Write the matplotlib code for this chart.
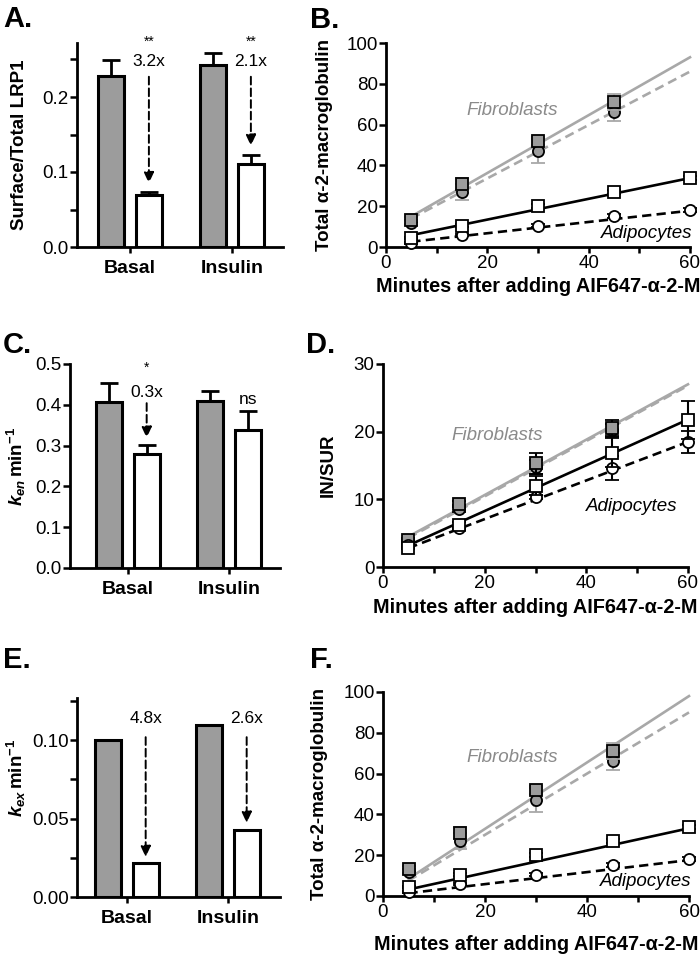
import numpy as np
import matplotlib
matplotlib.use("Agg")
import matplotlib.pyplot as plt
from matplotlib.ticker import MultipleLocator, FormatStrFormatter

plt.rcParams["font.family"] = ["Liberation Sans", "DejaVu Sans"]
plt.rcParams["mathtext.fontset"] = "custom"
plt.rcParams["mathtext.rm"] = "Liberation Sans:bold"
plt.rcParams["mathtext.it"] = "Liberation Sans:italic:bold"
plt.rcParams["mathtext.bf"] = "Liberation Sans:bold"

# bar panels
groups = ["Basal", "Insulin"]

# A: surface / total LRP1
a_fib = [0.228, 0.243]
a_fib_err = [0.021, 0.016]
a_adi = [0.069, 0.111]
a_adi_err = [0.005, 0.012]
a_fold = ["3.2x", "2.1x"]
a_stars = ["**", "**"]
a_arrow_tip = [0.085, 0.135]

# C: k_en
c_fib = [0.408, 0.410]
c_fib_err = [0.046, 0.023]
c_adi = [0.279, 0.339]
c_adi_err = [0.023, 0.045]

# E: k_ex
e_fib = [0.100, 0.110]
e_adi = [0.0215, 0.043]
e_fold = ["4.8x", "2.6x"]
e_arrow_tip = [0.0255, 0.0473]

# kinetic panels (B and F share the points)
fib_min = [5, 15, 30, 45]
adi_min = [5, 15, 30, 45, 60]
fit_x = [5, 60]

tot_fib_sq = [13, 31, 52, 71]
tot_fib_sq_err = [1.5, 3, 2, 4]
tot_fib_ci = [12, 27, 47, 66]
tot_fib_ci_err = [1, 4, 6, 4]
tot_adi_sq = [4.5, 10.5, 20, 27, 34]
tot_adi_sq_err = [0.5, 0.8, 1, 1, 1]
tot_adi_ci = [2, 6, 10.5, 15, 18]
tot_adi_ci_err = [0.3, 0.5, 0.8, 1, 1]

b_fit_fib_sq = [15, 93]
b_fit_fib_ci = [14, 86]
b_fit_adi_sq = [5.8, 33.8]
b_fit_adi_ci = [2.6, 17.8]

f_fit_fib_sq = [8.5, 98]
f_fit_fib_ci = [7.5, 90]
f_fit_adi_sq = [3.2, 33.2]
f_fit_adi_ci = [1.4, 17.6]

# D: IN/SUR
d_fib_sq = [4.0, 9.3, 15.3, 20.5]
d_fib_sq_err = [0.3, 0.5, 1.5, 1.2]
d_fib_ci = [3.7, 8.6, 14.8, 20.2]
d_fib_ci_err = [0.3, 0.5, 1.0, 1.0]
d_adi_sq = [2.8, 6.2, 12.0, 16.9, 21.7]
d_adi_sq_err = [0.2, 0.4, 1.4, 2.1, 2.8]
d_adi_ci = [3.2, 5.7, 10.3, 14.6, 18.5]
d_adi_ci_err = [0.2, 0.3, 0.3, 1.8, 1.6]

d_fit_fib_sq = [4.5, 27.0]
d_fit_fib_ci = [4.3, 26.8]
d_fit_adi_sq = [3.2, 21.8]
d_fit_adi_ci = [2.8, 18.5]

GRAY = "#9c9c9c"
LGRAY = "#a8a8a8"
TXTGRAY = "#8a8a8a"

fig = plt.figure(figsize=(7, 9.57), dpi=100)


def add_ax(l, r, b, t):
    return fig.add_axes([l / 700, 1 - b / 957, (r - l) / 700, (b - t) / 957])


def style(ax):
    for s in ["top", "right"]:
        ax.spines[s].set_visible(False)
    for s in ["left", "bottom"]:
        ax.spines[s].set_linewidth(2)
    ax.tick_params(which="both", direction="out", width=1.8, length=5,
                   labelsize=13.5, pad=1)
    ax.tick_params(axis="x", which="both", length=4.5, pad=1)


def bar_panel(ax, fib, adi, fib_err=None, adi_err=None):
    x = np.arange(len(groups))
    w = 0.26
    ax.bar(x - 0.185, fib, w, color=GRAY, edgecolor="black", linewidth=2.2, zorder=3)
    ax.bar(x + 0.185, adi, w, color="white", edgecolor="black", linewidth=2.2, zorder=3)
    if fib_err is not None:
        ax.errorbar(x - 0.185, fib, yerr=[np.zeros(len(fib)), fib_err], fmt="none",
                    ecolor="black", elinewidth=2, capsize=6.5, capthick=2, zorder=2)
        ax.errorbar(x + 0.185, adi, yerr=[np.zeros(len(adi)), adi_err], fmt="none",
                    ecolor="black", elinewidth=2, capsize=6.5, capthick=2, zorder=2)
    style(ax)
    ax.set_xticks(x)
    ax.set_xticklabels(groups, fontsize=14, fontweight="bold")
    ax.tick_params(axis="x", pad=5)


def fold_arrow(ax, xpos, start, tip):
    ax.annotate("", xy=(xpos, tip), xytext=(xpos, start),
                arrowprops=dict(arrowstyle="-|>,head_width=0.3,head_length=0.65",
                                linestyle=(0, (4, 2)), lw=1.4, color="black",
                                shrinkA=0, shrinkB=0),
                annotation_clip=False)


def kinetic_panel(ax, fsq, fsq_e, fci, fci_e, asq, asq_e, aci, aci_e,
                  fits, fib_ecolor):
    ax.plot(fit_x, fits[0], color=LGRAY, lw=1.9, zorder=2)
    ax.plot(fit_x, fits[1], color=LGRAY, lw=1.9, ls=(0, (3.5, 2)), zorder=2)
    ax.plot(fit_x, fits[2], color="black", lw=1.9, zorder=2)
    ax.plot(fit_x, fits[3], color="black", lw=1.9, ls=(0, (3.5, 2)), zorder=2)
    kw = dict(markersize=8, markeredgecolor="black", markeredgewidth=1.3,
              elinewidth=1.5, capsize=5, capthick=1.5, ls="none")
    ax.errorbar(fib_min, fci, yerr=fci_e, fmt="o", color=GRAY, ecolor=fib_ecolor,
                zorder=4, **kw)
    ax.errorbar(fib_min, fsq, yerr=fsq_e, fmt="s", color=GRAY, ecolor=fib_ecolor,
                zorder=5, **kw)
    ax.errorbar(adi_min, aci, yerr=aci_e, fmt="o", color="white", ecolor="black",
                zorder=6, **kw)
    ax.errorbar(adi_min, asq, yerr=asq_e, fmt="s", color="white", ecolor="black",
                zorder=7, **kw)
    style(ax)
    ax.set_xlim(0, 60)
    ax.xaxis.set_major_locator(MultipleLocator(20))
    ax.xaxis.set_minor_locator(MultipleLocator(10))
    ax.set_xlabel("Minutes after adding AIF647-α-2-M", fontsize=14.3,
                  fontweight="bold")
    for c in ax.get_children():
        if hasattr(c, "set_clip_on"):
            c.set_clip_on(False)


# ---- A ----
axA = add_ax(77, 283, 247, 43)
bar_panel(axA, a_fib, a_adi, a_fib_err, a_adi_err)
axA.set_xlim(-0.52, 1.5)
axA.set_ylim(0, 0.272)
axA.yaxis.set_major_locator(MultipleLocator(0.1))
axA.yaxis.set_minor_locator(MultipleLocator(0.05))
axA.yaxis.set_major_formatter(FormatStrFormatter("%.1f"))
axA.set_ylabel("Surface/Total LRP1", fontsize=13.5, fontweight="bold")
axA.yaxis.set_label_coords(-0.238, 0.5)
for i in range(2):
    xp = i + 0.185
    axA.text(xp, 0.273, a_stars[i], ha="center", va="center", fontsize=10)
    axA.text(xp, 0.247, a_fold[i], ha="center", va="center", fontsize=12.5)
    fold_arrow(axA, xp, 0.227, a_arrow_tip[i])

# ---- B ----
axB = add_ax(386, 690, 247, 43)
kinetic_panel(axB, tot_fib_sq, tot_fib_sq_err, tot_fib_ci, tot_fib_ci_err,
              tot_adi_sq, tot_adi_sq_err, tot_adi_ci, tot_adi_ci_err,
              [b_fit_fib_sq, b_fit_fib_ci, b_fit_adi_sq, b_fit_adi_ci], LGRAY)
axB.set_ylim(0, 100)
axB.yaxis.set_major_locator(MultipleLocator(20))
axB.set_ylabel("Total α-2-macroglobulin", fontsize=13.5, fontweight="bold")
axB.yaxis.set_label_coords(-0.174, 0.5)
axB.xaxis.set_label_coords(0.5, -0.148)
axB.text(25, 67, "Fibroblasts", style="italic", color=TXTGRAY, fontsize=13.5,
         ha="center", va="center")
axB.text(51.5, 6.4, "Adipocytes", style="italic", color="black", fontsize=13.5,
         ha="center", va="center")

# ---- C ----
axC = add_ax(70, 280, 568, 364)
bar_panel(axC, c_fib, c_adi, c_fib_err, c_adi_err)
axC.set_xlim(-0.574, 1.505)
axC.set_ylim(0, 0.5)
axC.yaxis.set_major_locator(MultipleLocator(0.1))
axC.yaxis.set_major_formatter(FormatStrFormatter("%.1f"))
axC.set_ylabel(r"$k_{en}\,\mathrm{min}^{-1}$", fontsize=13.5)
axC.yaxis.set_label_coords(-0.2, 0.5)
axC.text(0.185, 0.49, "*", ha="center", va="center", fontsize=10)
axC.text(0.185, 0.431, "0.3x", ha="center", va="center", fontsize=12.5)
fold_arrow(axC, 0.185, 0.404, 0.319)
axC.text(1.185, 0.414, "ns", ha="center", va="center", fontsize=12.5)

# ---- D ----
axD = add_ax(383, 688, 567, 364)
kinetic_panel(axD, d_fib_sq, d_fib_sq_err, d_fib_ci, d_fib_ci_err,
              d_adi_sq, d_adi_sq_err, d_adi_ci, d_adi_ci_err,
              [d_fit_fib_sq, d_fit_fib_ci, d_fit_adi_sq, d_fit_adi_ci], "black")
axD.set_ylim(0, 30)
axD.yaxis.set_major_locator(MultipleLocator(10))
axD.set_ylabel("IN/SUR", fontsize=13.5, fontweight="bold")
axD.yaxis.set_label_coords(-0.151, 0.5)
axD.xaxis.set_label_coords(0.5, -0.155)
axD.text(22.4, 19.5, "Fibroblasts", style="italic", color=TXTGRAY, fontsize=13.5,
         ha="center", va="center")
axD.text(49, 8.9, "Adipocytes", style="italic", color="black", fontsize=13.5,
         ha="center", va="center")

# ---- E ----
axE = add_ax(77, 280, 897, 698)
bar_panel(axE, e_fib, e_adi)
axE.set_xlim(-0.495, 1.515)
axE.set_ylim(0, 0.127)
axE.yaxis.set_major_locator(MultipleLocator(0.05))
axE.yaxis.set_minor_locator(MultipleLocator(0.025))
axE.yaxis.set_major_formatter(FormatStrFormatter("%.2f"))
axE.set_ylabel(r"$k_{ex}\,\mathrm{min}^{-1}$", fontsize=13.5)
axE.yaxis.set_label_coords(-0.241, 0.6)
for i in range(2):
    xp = i + 0.185
    axE.text(xp, 0.1137, e_fold[i], ha="center", va="center", fontsize=12.5)
    fold_arrow(axE, xp, 0.102, e_arrow_tip[i])

# ---- F ----
axF = add_ax(383, 689, 896, 692)
kinetic_panel(axF, tot_fib_sq, tot_fib_sq_err, tot_fib_ci, tot_fib_ci_err,
              tot_adi_sq, tot_adi_sq_err, tot_adi_ci, tot_adi_ci_err,
              [f_fit_fib_sq, f_fit_fib_ci, f_fit_adi_sq, f_fit_adi_ci], LGRAY)
axF.set_ylim(0, 100)
axF.yaxis.set_major_locator(MultipleLocator(20))
axF.set_ylabel("Total α-2-macroglobulin", fontsize=13.5, fontweight="bold")
axF.yaxis.set_label_coords(-0.18, 0.5)
axF.xaxis.set_label_coords(0.5, -0.19)
axF.text(25.3, 68, "Fibroblasts", style="italic", color=TXTGRAY, fontsize=13.5,
         ha="center", va="center")
axF.text(51.5, 6.9, "Adipocytes", style="italic", color="black", fontsize=13.5,
         ha="center", va="center")

# panel letters
for lab, px, py in [("A.", 3, 27), ("B.", 310, 28), ("C.", 3, 353),
                    ("D.", 306, 353), ("E.", 3, 668), ("F.", 310, 668)]:
    fig.text(px / 700, 1 - py / 957, lab, fontsize=21, fontweight="bold",
             ha="left", va="baseline")

fig.savefig("out.png", dpi=100)
